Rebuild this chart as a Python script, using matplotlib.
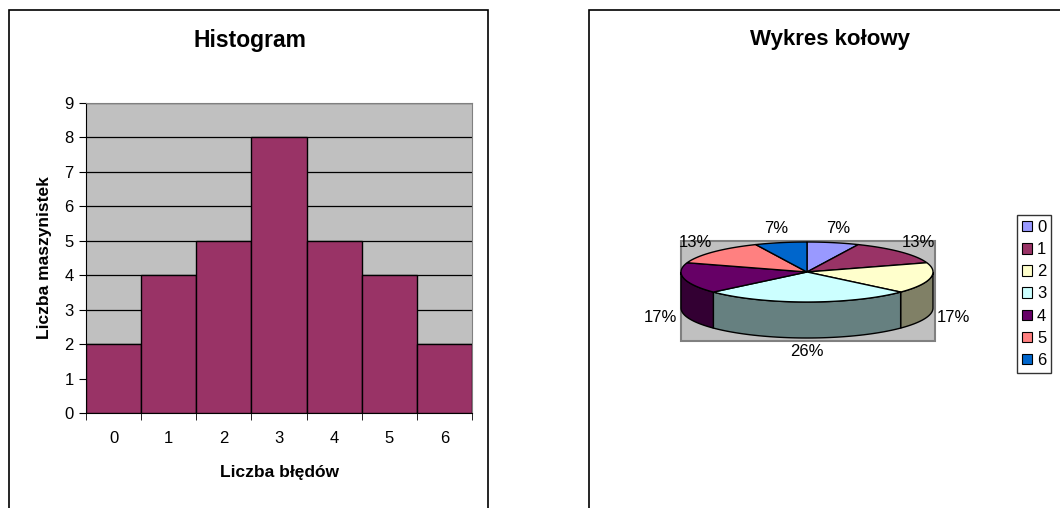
import numpy as np
import matplotlib
matplotlib.use("Agg")
import matplotlib.pyplot as plt
from matplotlib.patches import Rectangle, Polygon, Patch
from matplotlib.colors import to_rgb

plt.rcParams['font.family'] = ['Liberation Sans', 'DejaVu Sans']

# ---- data ----
categories = ['0', '1', '2', '3', '4', '5', '6']
counts = [2, 4, 5, 8, 5, 4, 2]
pie_labels = ['7%', '13%', '17%', '26%', '17%', '13%', '7%']
pie_colors = ['#9999FF', '#993366', '#FFFFCC', '#CCFFFF', '#660066', '#FF8080', '#0066CC']
y_ticks = list(range(0, 10))

W, H = 1060, 508
fig = plt.figure(figsize=(W / 100, H / 100), dpi=100)
fig.patch.set_facecolor('white')

def fx(px):
    return px / W

def fy(py):
    return 1 - py / H

# panel frames
fig.patches.append(Rectangle((fx(9), fy(520)), fx(488) - fx(9), fy(10) - fy(520),
                             transform=fig.transFigure, fill=False, edgecolor='black', lw=1.2))
fig.patches.append(Rectangle((fx(589), fy(520)), fx(1080) - fx(589), fy(10) - fy(520),
                             transform=fig.transFigure, fill=False, edgecolor='black', lw=1.2))

# ---- histogram ----
L, R, T, B = 86, 472, 103, 413
ax = fig.add_axes([fx(L), fy(B), fx(R) - fx(L), fy(T) - fy(B)])
ax.set_facecolor('#C0C0C0')
x = np.arange(len(categories))
ax.set_axisbelow(True)
ax.yaxis.grid(True, color='black', lw=0.9)
ax.bar(x, counts, width=1.0, color='#993366', edgecolor='black', lw=1.0, zorder=3)
ax.set_xlim(-0.5, len(categories) - 0.5)
ax.set_ylim(0, 9)
ax.set_yticks(y_ticks)
ax.set_xticks(x)
ax.set_xticklabels(categories)
ax.set_xticks(np.arange(len(categories) + 1) - 0.5, minor=True)
ax.tick_params(axis='x', which='major', length=0, pad=13, labelsize=12)
ax.tick_params(axis='x', which='minor', length=5, direction='out', color='black')
ax.tick_params(axis='y', length=5, direction='out', labelsize=12, pad=4)
for s in ['top', 'right']:
    ax.spines[s].set_color('#808080')
for s in ['left', 'bottom']:
    ax.spines[s].set_color('black')
ax.set_xlabel('Liczba błędów', fontsize=12.5, fontweight='bold', labelpad=14)
ax.set_ylabel('Liczba maszynistek', fontsize=12.5, fontweight='bold', labelpad=9)
fig.text(fx(250), fy(41), 'Histogram', fontsize=16.5, fontweight='bold', ha='center', va='center')

# ---- 3D pie ----
fig.text(fx(830), fy(40), 'Wykres kołowy', fontsize=16, fontweight='bold', ha='center', va='center')
pax = fig.add_axes([0, 0, 1, 1])
pax.set_xlim(0, W)
pax.set_ylim(H, 0)
pax.axis('off')
pax.patch.set_alpha(0)

pax.add_patch(Rectangle((681, 241), 935 - 681, 341 - 241, facecolor='#C0C0C0',
                        edgecolor='#808080', lw=1.5, zorder=1))

cx, cy, rx, ry, depth = 807, 272, 126, 30, 36
vals = np.array(counts, dtype=float)
fracs = vals / vals.sum()
starts = 90 - 360 * np.concatenate([[0], np.cumsum(fracs)[:-1]])
ends = starts - 360 * fracs

def pt(t):
    r = np.radians(t)
    return cx + rx * np.cos(r), cy - ry * np.sin(r)

# side walls (front half)
for i in range(len(vals)):
    lo = max(ends[i], -180)
    hi = min(starts[i], 0)
    if lo < hi:
        ts = np.linspace(lo, hi, 60)
        top = np.array([pt(t) for t in ts])
        bot = top + np.array([0, depth])
        poly = np.vstack([top, bot[::-1]])
        c = tuple(v * 0.5 for v in to_rgb(pie_colors[i]))
        pax.add_patch(Polygon(poly, closed=True, facecolor=c, edgecolor='black', lw=1.0, zorder=2))

# tops
for i in range(len(vals)):
    ts = np.linspace(starts[i], ends[i], 80)
    arc = np.array([pt(t) for t in ts])
    poly = np.vstack([[cx, cy], arc])
    pax.add_patch(Polygon(poly, closed=True, facecolor=pie_colors[i], edgecolor='black', lw=1.0, zorder=3))

# labels
for i in range(len(vals)):
    mid = np.radians((starts[i] + ends[i]) / 2)
    lx = cx + 150 * np.cos(mid)
    ly = cy - 44 * np.sin(mid)
    if np.sin(mid) < 0:
        ly += depth
    pax.text(lx, ly, pie_labels[i], fontsize=12, ha='center', va='center', zorder=5)

# legend
handles = [Patch(facecolor=c, edgecolor='black', lw=0.8) for c in pie_colors]
leg = fig.legend(handles, categories, loc='upper left', bbox_to_anchor=(fx(1017), fy(215)),
                 frameon=True, fancybox=False, fontsize=12, handlelength=0.6, handleheight=0.6,
                 handletextpad=0.3, labelspacing=0.43, borderpad=0.3, borderaxespad=0)
leg.get_frame().set_edgecolor('black')
leg.get_frame().set_linewidth(1.0)

fig.savefig('out.png', dpi=100)
